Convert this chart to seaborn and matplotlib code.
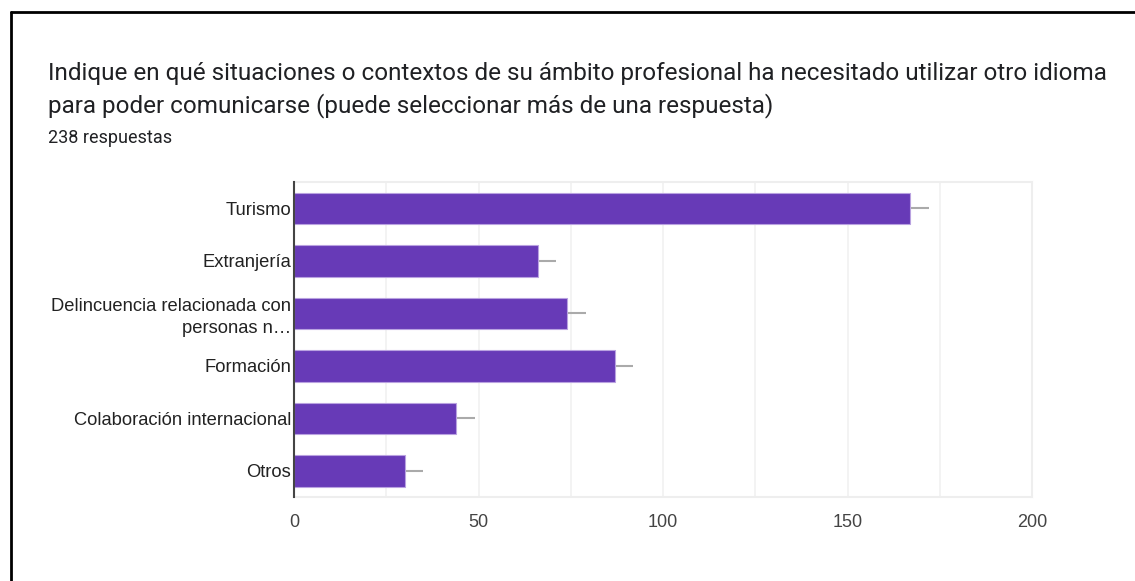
import matplotlib
matplotlib.use("Agg")
import matplotlib.pyplot as plt
import seaborn as sns
import pandas as pd
from matplotlib.lines import Line2D

categories = ["Turismo", "Extranjería", "Delincuencia relacionada con\npersonas n…",
              "Formación", "Colaboración internacional", "Otros"]
values = [167, 66, 74, 87, 44, 30]
err_plus = [5, 5, 5, 5, 5, 5]
xticks = [0, 50, 100, 150, 200]

title = ("Indique en qué situaciones o contextos de su ámbito profesional ha necesitado utilizar otro idioma\n"
         "para poder comunicarse (puede seleccionar más de una respuesta)")
subtitle = "238 respuestas"

sns.set_theme(style="white")
plt.rcParams['font.family'] = ['Roboto', 'DejaVu Sans']

df = pd.DataFrame({"cat": categories, "val": values})

fig = plt.figure(figsize=(11.35, 5.81), dpi=100)
ax = fig.add_axes([294/1135, 1 - 497/581, (1032-294)/1135, (497-182)/581])

sns.barplot(data=df, y="cat", x="val", orient="h", color="#673ab7", saturation=1,
            width=0.6, edgecolor="#b9a2e0", linewidth=0.8, ax=ax, zorder=3)

ypos = list(range(len(categories)))
ax.errorbar(values, ypos, xerr=[[0]*len(values), err_plus], fmt="none",
            ecolor="#aaaaaa", elinewidth=1.5, capsize=0, zorder=2)

ax.set_xlim(0, 200)
ax.set_ylim(len(categories) - 0.5, -0.5)
ax.set_xticks(xticks)
ax.set_xticks(range(0, 201, 25), minor=True)
ax.grid(True, axis="x", which="both", color="#f1f1f1", linewidth=1.2, zorder=0)
ax.set_axisbelow(True)
ax.set_xlabel("")
ax.set_ylabel("")
ax.tick_params(axis="x", which="both", length=0, pad=12, labelsize=13, labelcolor="#444444")
ax.tick_params(axis="y", length=0, pad=2, labelsize=13.2, labelcolor="#222222")
for lab in ax.get_yticklabels() + ax.get_xticklabels():
    lab.set_family(['Liberation Sans', 'DejaVu Sans'])
for lab in ax.get_yticklabels():
    lab.set_linespacing(1.35)
    lab.set_horizontalalignment("right")

for side in ["top", "right", "bottom"]:
    ax.spines[side].set_color("#eeeeee")
    ax.spines[side].set_linewidth(1.5)
ax.spines["left"].set_color("#444444")
ax.spines["left"].set_linewidth(1.5)
ax.spines["left"].set_zorder(5)

fig.text(48/1135, 1 - 90/581, title, ha="left", va="center", fontsize=17.5,
         color="#202124", linespacing=1.4)
fig.text(48/1135, 1 - 138/581, subtitle, ha="left", va="center", fontsize=13,
         color="#202124")

fig.add_artist(Line2D([11/1135, 11/1135], [0, 1 - 12/581], transform=fig.transFigure,
                      color="black", linewidth=2))
fig.add_artist(Line2D([11/1135, 1], [1 - 12/581, 1 - 12/581], transform=fig.transFigure,
                      color="black", linewidth=2))

fig.savefig("out.png", dpi=100)
